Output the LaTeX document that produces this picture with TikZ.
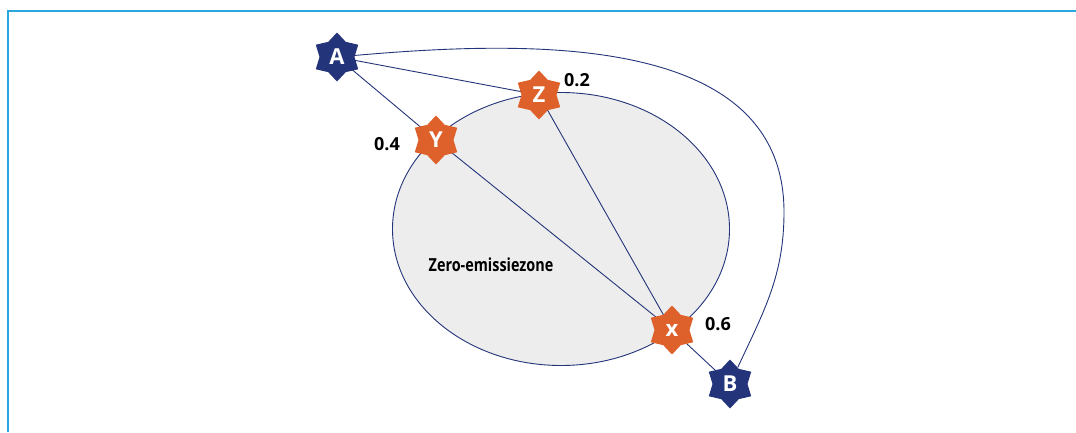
\documentclass[tikz,border=0pt]{standalone}
\usepackage{fontspec}
\setmainfont{Open Sans}
\newfontfamily\zonefont[FakeStretch=0.8]{Open Sans}
\usepackage{xcolor}
\usepackage{tikz}
\usetikzlibrary{shapes.geometric}
\definecolor{navy}{HTML}{24347A}
\definecolor{rust}{HTML}{DE612B}
\definecolor{frame}{HTML}{29A8E0}
\definecolor{zonegrey}{HTML}{EDEDED}
\tikzset{
  bluestar/.style={star, star points=6, star point ratio=1.4, fill=navy, text=white,
    minimum size=49pt, inner sep=0pt, font=\fontsize{22}{24}\selectfont\bfseries},
  orangestar/.style={bluestar, fill=rust},
  num/.style={font=\fontsize{18}{20}\selectfont\bfseries},
  link/.style={draw=navy, line width=0.9pt}
}

\begin{document}
\begin{tikzpicture}[x=1pt,y=1pt]
\useasboundingbox (0,0) rectangle (1076,432);
\draw [frame, line width=1.6pt] (8,0)--(8,421)--(1076,421);

\node (zone) [ellipse, link, fill=zonegrey, minimum width=337pt, minimum height=273pt, inner sep=0pt] at (561,203){};
\node at (491,167){\zonefont\fontsize{18}{20}\selectfont\bfseries Zero-emissiezone};

\coordinate (bend) at (784,220);

\draw [link] (337,375) -- (436,292);
\draw [link] (337,375) -- (539,337);
\draw [link] (436,292) -- (672,102);
\draw [link] (539,337) -- (672,102);
\draw [link] (672,102) -- (730,48);

\node (A) [bluestar] at (337,375){A};
\node (Z) [orangestar] at (539,337){Z};
\node (Y) [orangestar] at (436,292){Y};
\node (X) [orangestar] at (672,102){x};
\node (B) [bluestar] at (730,48){B};

\draw [link] (A) to [out=5,in=90] (bend) to [out=-90,in=65] (B);

\node [num] at (577,352){0.2};
\node [num] at (387,288){0.4};
\node [num] at (718,108){0.6};
\end{tikzpicture}
\end{document}
